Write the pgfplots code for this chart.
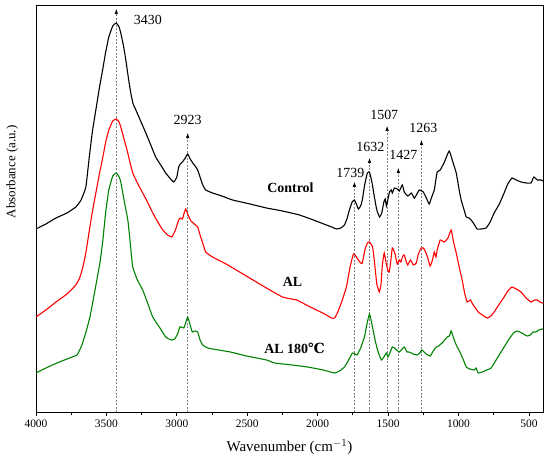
\documentclass[border=0pt]{standalone}
\usepackage{fontspec}
\setmainfont{Liberation Serif}
\newfontfamily\symfont{DejaVu Serif}
\usepackage{pgfplots}
\pgfplotsset{compat=1.18}
\usetikzlibrary{arrows.meta}
\definecolor{ftirred}{RGB}{255,0,0}
\definecolor{ftirgreen}{RGB}{0,130,0}

\begin{document}
\begin{tikzpicture}
\begin{axis}[
 scale only axis, width=507bp, height=407bp,
 x dir=reverse, xmin=400, xmax=4000, ymin=0, ymax=407,
 xtick={500,1000,...,4000}, minor x tick num=1,
 ytick=\empty,
 xtick pos=bottom, tick align=outside,
 major tick length=4bp, minor tick length=3bp,
 axis line style={line width=0.9bp},
 every tick/.style={black, line width=0.8bp},
 /pgf/number format/assume math mode=true,
 /pgf/number format/1000 sep={},
 tick label style={font=\fontsize{11.5}{13}\selectfont},
 xlabel={Wavenumber (cm$^{-1}$)},
 ylabel={Absorbance (a.u.)},
 xlabel style={font=\fontsize{15}{17}\selectfont, at={(axis description cs:0.5,-0.086)}, anchor=center},
 ylabel style={font=\fontsize{13}{15}\selectfont, at={(axis description cs:-0.047,0.59)}, anchor=center},
 clip=true,
]
% annotation lines
\foreach \w/\t in {3430/403,2923/279,1739/230,1632/254,1507/286,1427/244,1263/272}{
 \edef\tmp{\noexpand\draw[gray, line width=0.5bp, dash pattern=on 2bp off 1.5bp, -{Latex[length=5bp,width=3.5bp,black]}] (axis cs:\w,0) -- (axis cs:\w,\t);}
 \tmp
}
\addplot[black, line width=1.1bp, smooth, tension=0.25] table {
4000 183
3930 188
3858 194
3780 199
3717 205
3680 212
3646 225
3624 252
3600 280
3575 302
3550 324
3527 342
3505 360
3483 375
3455 386
3430 389
3410 385
3398 379
3380 367
3362 352
3345 335
3327 319
3310 308
3291 302
3260 292
3220 279
3185 267
3150 255
3110 246
3079 239
3050 234
3022 230
3000 235
2987 245
2975 248
2960 250
2940 254
2923 258
2905 253
2887 249
2870 246
2852 242
2835 235
2816 227
2795 222
2746 219
2680 216
2604 212
2480 208
2363 204
2250 201
2129 197
2030 192
1938 187
1900 185
1867 183
1835 184
1810 187
1790 194
1775 202
1755 210
1739 212
1725 208
1711 203
1695 206
1683 212
1665 228
1647 239
1632 240
1615 230
1597 215
1580 202
1560 195
1545 199
1530 210
1520 213
1512 206
1505 210
1490 220
1477 222
1470 219
1455 224
1435 223
1420 221
1399 227
1385 220
1360 216
1335 219
1314 214
1295 218
1279 222
1250 220
1225 213
1208 208
1190 215
1172 222
1160 233
1151 240
1130 242
1100 250
1066 261
1040 250
1016 239
995 222
981 212
960 202
945 195
925 194
910 192
890 188
868 183
840 183
804 184
775 190
747 199
710 208
676 219
650 228
620 234
590 232
556 230
520 229
485 229
470 234
464 235
440 232
414 232
400 231
};
\addplot[ftirred, line width=1.1bp, smooth, tension=0.25] table {
4000 95
3930 102
3858 110
3780 118
3717 127
3690 134
3667 145
3645 160
3624 179
3600 200
3575 219
3550 238
3525 255
3505 270
3483 282
3455 291
3430 293
3410 290
3398 285
3375 273
3348 259
3330 248
3313 239
3280 229
3242 219
3205 209
3171 199
3135 190
3100 182
3065 177
3036 175
3010 182
2987 192
2975 194
2960 193
2950 198
2937 203
2920 197
2900 191
2875 188
2852 185
2835 177
2816 169
2795 160
2746 155
2650 148
2554 140
2400 127
2250 115
2150 112
2080 107
2009 102
1950 98
1902 94
1880 94
1860 99
1830 110
1796 125
1770 145
1746 158
1730 156
1711 152
1695 149
1683 149
1665 162
1647 169
1632 170
1610 165
1595 148
1580 128
1562 120
1550 128
1540 148
1527 159
1515 150
1500 141
1491 140
1480 152
1470 164
1455 160
1450 158
1435 148
1420 152
1410 150
1395 156
1385 157
1370 150
1360 147
1350 150
1340 152
1320 147
1300 149
1285 158
1264 164
1250 164
1240 162
1220 155
1201 146
1185 152
1172 160
1160 155
1150 163
1130 172
1115 171
1100 170
1075 174
1052 182
1035 170
1016 159
995 145
974 132
955 118
938 110
915 112
900 108
880 104
860 100
830 97
797 94
770 96
747 100
710 108
676 115
650 121
620 125
590 123
556 120
520 114
485 110
460 112
442 112
420 110
407 109
400 109
};
\addplot[ftirgreen, line width=1.1bp, smooth, tension=0.25] table {
4000 39
3930 44
3851 49
3780 53
3709 57
3690 62
3674 67
3645 80
3617 95
3590 115
3568 132
3545 150
3525 172
3505 200
3483 222
3455 236
3430 239
3410 235
3398 230
3375 212
3348 192
3330 168
3313 145
3280 132
3242 122
3205 108
3171 95
3120 84
3079 75
3040 72
3015 73
2995 78
2979 85
2965 85
2950 84
2935 90
2923 95
2905 87
2890 80
2870 81
2852 80
2835 72
2816 67
2780 64
2746 63
2620 60
2505 56
2363 52
2306 49
2180 47
2072 45
1960 42
1881 39
1845 41
1810 45
1780 52
1753 59
1735 58
1720 57
1695 64
1668 75
1650 88
1632 98
1615 88
1597 75
1575 62
1548 52
1530 55
1512 59
1500 55
1485 60
1470 65
1455 64
1440 62
1420 60
1400 63
1385 65
1365 60
1350 60
1320 58
1293 57
1275 59
1260 62
1230 58
1200 56
1180 61
1158 65
1140 66
1110 70
1080 75
1065 76
1052 81
1035 74
1016 67
990 60
965 52
945 45
920 43
889 42
875 44
860 39
830 40
800 42
768 44
720 55
676 65
640 73
610 79
584 81
550 79
513 76
490 77
470 80
450 80
430 82
407 83
400 83
};
% labels
\node[font=\fontsize{14}{16}\selectfont] at (axis cs:3206,392) {3430};
\node[font=\fontsize{14}{16}\selectfont] at (axis cs:2923,292) {2923};
\node[font=\fontsize{14}{16}\selectfont] at (axis cs:1768,239) {1739};
\node[font=\fontsize{14}{16}\selectfont] at (axis cs:1626,265) {1632};
\node[font=\fontsize{14}{16}\selectfont] at (axis cs:1527,297) {1507};
\node[font=\fontsize{14}{16}\selectfont] at (axis cs:1392,257) {1427};
\node[font=\fontsize{14}{16}\selectfont] at (axis cs:1250,284) {1263};
\node[font=\fontsize{14}{16}\selectfont\bfseries] at (axis cs:2193,224) {Control};
\node[font=\fontsize{14}{16}\selectfont\bfseries] at (axis cs:2179,130) {AL};
\node[font=\fontsize{14}{16}\selectfont\bfseries] at (axis cs:2164,64) {AL 180{\symfont ℃}};
\end{axis}
\pgfresetboundingbox
\path (-36bp,-48bp) rectangle (514bp,412bp);
\end{tikzpicture}
\end{document}
